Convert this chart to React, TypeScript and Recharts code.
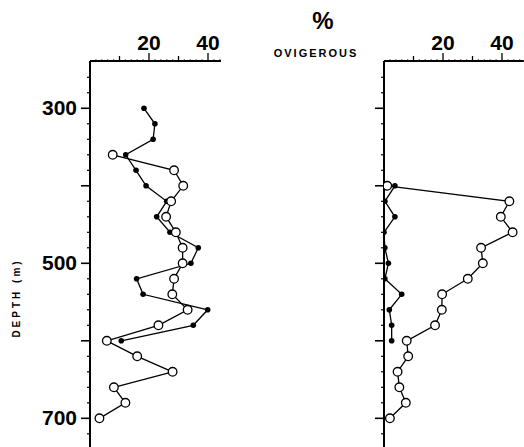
// @ts-nocheck
import { ScatterChart, Scatter, XAxis, YAxis } from 'recharts'

// left panel
const filledDepthL = [300, 320, 340, 360, 380, 400, 420, 440, 460, 480, 500, 520, 540, 560, 580, 600]
const filledPctL = [18.3, 22.0, 21.4, 12.1, 15.6, 19.0, 26.0, 22.6, 27.1, 36.7, 34.2, 15.8, 18.0, 39.9, 35.0, 10.6]
const openDepthL = [360, 380, 400, 420, 440, 460, 480, 500, 520, 540, 560, 580, 600, 620, 640, 660, 680, 700]
const openPctL = [7.7, 28.5, 31.6, 27.5, 25.8, 29.1, 31.4, 31.4, 28.5, 27.9, 33.1, 23.2, 5.7, 16.0, 28.0, 8.1, 12.0, 3.2]

// right panel
const filledDepthR = [400, 420, 440, 460, 480, 500, 520, 540, 560, 580, 600]
const filledPctR = [3.7, 0.3, 3.7, 0.0, 0.3, 1.5, 0.3, 6.0, 1.8, 2.6, 2.6]
const openDepthR = [400, 420, 440, 460, 480, 500, 520, 540, 560, 580, 600, 620, 640, 660, 680, 700]
const openPctR = [1.1, 42.5, 39.6, 43.6, 32.9, 33.5, 28.4, 19.7, 19.6, 17.3, 7.7, 8.2, 4.6, 5.2, 7.4, 2.0]

const depthTicks = [260, 280, 300, 320, 340, 360, 380, 400, 420, 440, 460, 480, 500, 520, 540, 560, 580, 600, 620, 640, 660, 680, 700, 720]
const depthLabels = [300, 500, 700]
const pctLabels = [20, 40]

const FONT = '"Liberation Sans", Arial, sans-serif'

const zip = (d, p) => d.map((depth, i) => ({ depth, pct: p[i] }))

function YTick({ x, y, payload, labels }) {
  const v = payload.value
  const major = v % 100 === 0
  return (
    <g>
      <line x1={x - (major ? 9 : 3)} x2={x} y1={y} y2={y} stroke="#000" strokeWidth={major ? 1.6 : 1.2} />
      {labels && depthLabels.includes(v) && (
        <text x={x - 13} y={y + 7} textAnchor="end" fontFamily={FONT} fontWeight="bold" fontSize={21} fill="#000">
          {v}
        </text>
      )}
    </g>
  )
}

function XTick({ x, y, payload }) {
  const v = payload.value
  const len = v % 20 === 0 ? 8 : v % 10 === 0 ? 5 : 1.5
  return (
    <g>
      <line x1={x} x2={x} y1={y - len} y2={y} stroke="#000" strokeWidth={1.3} />
      {pctLabels.includes(v) && (
        <text x={x} y={y - 11} textAnchor="middle" fontFamily={FONT} fontWeight="bold" fontSize={21} fill="#000">
          {v}
        </text>
      )}
    </g>
  )
}

const filledDot = (p) => <circle cx={p.cx} cy={p.cy} r={2.8} fill="#000" />
const openDot = (p) => <circle cx={p.cx} cy={p.cy} r={4.3} fill="#fff" stroke="#000" strokeWidth={1.3} />

function Panel({ width, axisX, xMax, xTicks, filled, open, labels }) {
  return (
    <div style={{ position: 'absolute', left: 0, top: 0 }}>
      <ScatterChart width={width} height={447} margin={{ top: 60, left: axisX - 1, right: width - axisX - xMax * 2.95, bottom: 0 }}>
        <XAxis type="number" dataKey="pct" orientation="top" height={1} domain={[0, xMax]} ticks={xTicks}
          interval={0} tickSize={0} tickMargin={0} tickLine={false} tick={<XTick />}
          axisLine={{ stroke: '#000', strokeWidth: 2 }} allowDataOverflow />
        <YAxis type="number" dataKey="depth" width={1} reversed domain={[239, 737]} ticks={depthTicks}
          interval={0} tickSize={0} tickMargin={0} tickLine={false} tick={<YTick labels={labels} />}
          axisLine={{ stroke: '#000', strokeWidth: 2 }} allowDataOverflow />
        <Scatter data={filled} line={{ stroke: '#000', strokeWidth: 1.3 }} shape={filledDot} isAnimationActive={false} />
        <Scatter data={open} line={{ stroke: '#000', strokeWidth: 1.3 }} shape={openDot} isAnimationActive={false} />
      </ScatterChart>
    </div>
  )
}

export default function App() {
  const ticksL = Array.from({ length: 22 }, (_, i) => (i + 1) * 2)
  const ticksR = Array.from({ length: 23 }, (_, i) => (i + 1) * 2)
  return (
    <div style={{ position: 'absolute', left: 0, top: 0, width: 524, height: 447, background: '#fff', overflow: 'hidden' }}>
      <Panel width={240} axisX={90} xMax={44.4} xTicks={ticksL} filled={zip(filledDepthL, filledPctL)} open={zip(openDepthL, openPctL)} labels />
      <Panel width={524} axisX={384} xMax={47.4} xTicks={ticksR} filled={zip(filledDepthR, filledPctR)} open={zip(openDepthR, openPctR)} labels={false} />
      <svg width={524} height={447} style={{ position: 'absolute', left: 0, top: 0, pointerEvents: 'none' }}>
        <text x={323} y={29} textAnchor="middle" fontFamily={FONT} fontWeight="bold" fontSize={24} fill="#000">%</text>
        <text x={316} y={57} textAnchor="middle" fontFamily={FONT} fontWeight="bold" fontSize={11} letterSpacing={2} fill="#000">OVIGEROUS</text>
        <text x={16} y={298} transform="rotate(-90 16 298)" textAnchor="middle" dominantBaseline="central" fontFamily={FONT} fontWeight="bold" fontSize={10} letterSpacing={3} fill="#000">DEPTH (m)</text>
      </svg>
    </div>
  )
}
